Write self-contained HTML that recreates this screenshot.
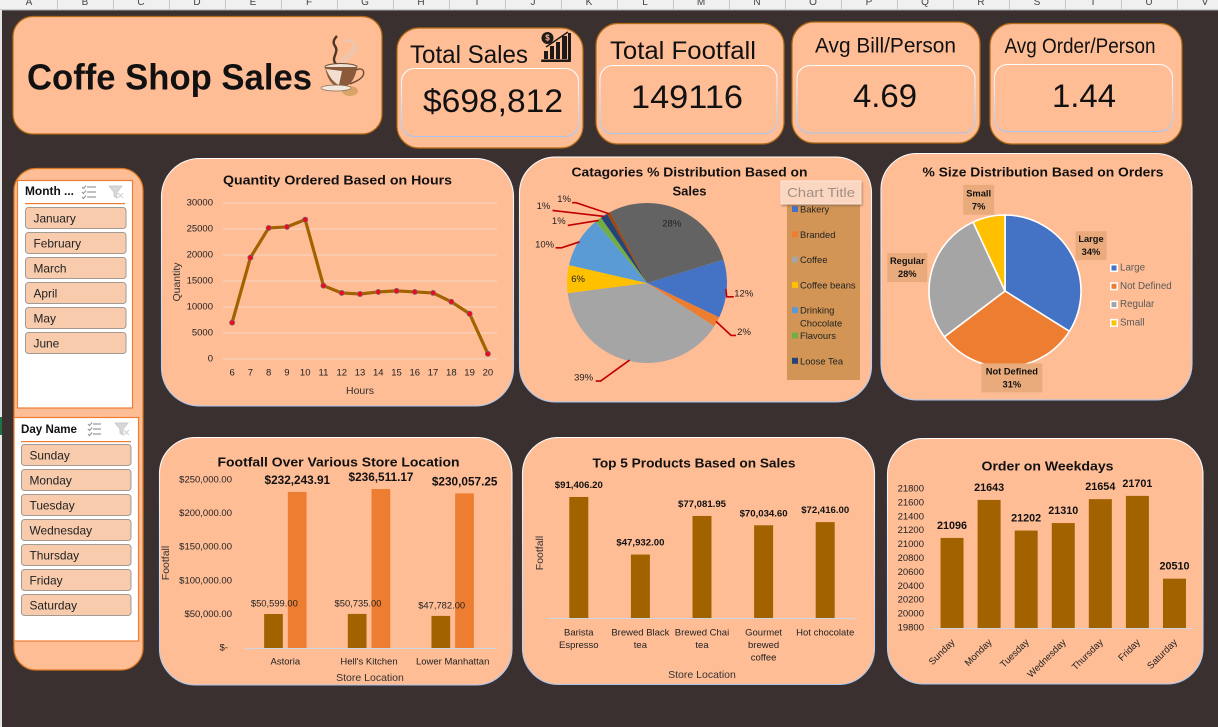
<!DOCTYPE html>
<html lang="en">
<head>
<meta charset="utf-8">
<title>Coffe Shop Sales Dashboard</title>
<style>
html,body{margin:0;padding:0;background:#3a3030;width:1218px;height:727px;overflow:hidden}
svg{display:block;font-family:"Liberation Sans",sans-serif}
text{dominant-baseline:central;fill:#111}
.kpi{fill:#ffbd96;stroke:#b26a14;stroke-width:1.2}
.inner{fill:#ffbd96;stroke:url(#edge);stroke-width:1.1}
.card{fill:#ffbd96;stroke:url(#edge);stroke-width:1.1}
.slicer-bg{fill:#fff;stroke:#ed7d31;stroke-width:1.2}
.item{fill:#f8cbad;stroke:#a39a94;stroke-width:1}
.item-text{font-size:11.9px;fill:#222}
.title{font-weight:bold;font-size:13px}
.tick{font-size:9.5px;fill:#222}
.axis-title{font-size:10.5px;fill:#333}
</style>
</head>
<body>
<svg id="dash" xmlns="http://www.w3.org/2000/svg" width="1218" height="727" viewBox="0 0 1218 727">
<defs>
<linearGradient id="edge" x1="0" y1="0" x2="0" y2="1"><stop offset="0" stop-color="#ffffff"/><stop offset="1" stop-color="#a9c6ee"/></linearGradient>
<filter id="soft" x="-10%" y="-10%" width="125%" height="130%"><feDropShadow dx="1" dy="1.5" stdDeviation="1" flood-color="#7a5a48" flood-opacity=".6"/></filter>
</defs>
<rect width="1218" height="727" fill="#3a3030"/>
<g id="sheet-head"></g>
<rect x="0" y="10" width="2" height="717" fill="#e6e6e6"/>
<rect x="0" y="417" width="2" height="18" fill="#1f7244"/>

<!-- title + KPI cards -->
<g>
<rect class="kpi" x="13" y="16.500" width="369" height="117.500" rx="20"/>
<text x="27" y="77" font-size="36" font-weight="bold" fill="#000" textLength="285" lengthAdjust="spacingAndGlyphs">Coffe Shop Sales</text>
<g>
<path d="M337 65C329 58 340 53 335 46C332 42 335 38 337 36" fill="none" stroke="#4e3524" stroke-width="2.4"/>
<path d="M340 62C344 54 352 54 354 46C355 40 347 38 344 43M343 62C350 56 358 52 358 44" fill="none" stroke="#d9cfc8" stroke-width="1.2"/>
<ellipse cx="341" cy="67" rx="16" ry="3.500" fill="#efe2d6" stroke="#6b4a32"/>
<path d="M325 67C327 78 331 84 336 86H347C352 83 356 76 357 67Z" fill="#8a5a3a"/>
<path d="M326 69C330 78 334 83 339 85L342 71Z" fill="#f2dfcf"/>
<path d="M356 70C364 66 366 74 361 78C358 81 354 82 350 84" fill="none" stroke="#6b4a32" stroke-width="1.400"/>
<ellipse cx="350" cy="91" rx="8" ry="5" fill="#d9a566"/>
<ellipse cx="336" cy="88" rx="15" ry="3" fill="#f3e8dd" stroke="#8a6a50" stroke-width=".7"/>
</g>
</g>

<g>
<rect class="kpi" x="397" y="28" width="186" height="120" rx="22"/>
<rect class="inner" x="401.500" y="68.500" width="177" height="68" rx="13"/>
<text x="410" y="55" font-size="25" textLength="118" lengthAdjust="spacingAndGlyphs">Total Sales</text>
<text x="423" y="101" font-size="32" textLength="140" lengthAdjust="spacingAndGlyphs">$698,812</text>
<g fill="#1f1a18">
<circle cx="547.500" cy="38" r="6"/>
<text x="547.500" y="38" font-size="8" font-weight="bold" text-anchor="middle" style="fill:#ffbd96">$</text>
<rect x="544" y="51" width="4" height="8"/><rect x="550" y="46" width="4" height="13"/><rect x="556" y="42" width="4" height="17"/><rect x="562" y="36" width="5" height="23"/>
<rect x="541" y="59.500" width="30" height="2.500" rx="1"/>
<rect x="568" y="33" width="3" height="27"/>
<path d="M546 47L568 32" stroke="#1f1a18" stroke-width="1.500"/>
</g>
</g>

<g>
<rect class="kpi" x="596" y="23.500" width="188" height="120.500" rx="22"/>
<rect class="inner" x="600" y="65.500" width="177" height="68" rx="13"/>
<text x="610" y="51" font-size="25" textLength="146" lengthAdjust="spacingAndGlyphs">Total Footfall</text>
<text x="631" y="97" font-size="32" textLength="112" lengthAdjust="spacingAndGlyphs">149116</text>
</g>

<g>
<rect class="kpi" x="792" y="22" width="188" height="121" rx="22"/>
<rect class="inner" x="797" y="65.500" width="178" height="67.500" rx="13"/>
<text x="815" y="46" font-size="21" textLength="141" lengthAdjust="spacingAndGlyphs">Avg Bill/Person</text>
<text x="853" y="96" font-size="32" textLength="64" lengthAdjust="spacingAndGlyphs">4.69</text>
</g>

<g>
<rect class="kpi" x="990" y="23.500" width="192" height="120.500" rx="22"/>
<rect class="inner" x="994.500" y="64.500" width="178" height="67" rx="13"/>
<text x="1004.500" y="46.500" font-size="21" textLength="151" lengthAdjust="spacingAndGlyphs">Avg Order/Person</text>
<text x="1052" y="96" font-size="32" textLength="64" lengthAdjust="spacingAndGlyphs">1.44</text>
</g>

<!-- slicers -->
<g>
<rect x="14" y="168.500" width="129" height="501.500" rx="22" fill="#ffbd96" stroke="#d9781f" stroke-width="1.200"/>
</g>
<g id="month-slicer">
<rect class="slicer-bg" x="17.500" y="180.500" width="115" height="227.500"/>
<text x="25" y="192" font-size="11.500" font-weight="bold" fill="#10203a" textLength="49" lengthAdjust="spacingAndGlyphs">Month ...</text>
<path d="M87 187h9M87 192h9M87 197h9M82 187l1.500 1.500 2.500-3M82 192l1.500 1.500 2.500-3M82 197l1.500 1.500 2.500-3" fill="none" stroke="#9a9a9a" stroke-width="1.200"/>
<path d="M109 186h13l-5 6v6l-3-2v-4zM118 193l5 5M123 193l-5 5" fill="#d8d8d8" stroke="#c4c4c4" stroke-width=".8"/>
<rect x="25" y="203" width="100" height="1.200" fill="#ed7d31"/>
</g>
<g id="day-slicer">
<rect class="slicer-bg" x="14" y="417.500" width="124.500" height="223.500"/>
<text x="21" y="430" font-size="11.500" font-weight="bold" fill="#10203a" textLength="56" lengthAdjust="spacingAndGlyphs">Day Name</text>
<path d="M93 424h8M93 429h8M93 434h8M88 424l1.500 1.500 2.500-3M88 429l1.500 1.500 2.500-3M88 434l1.500 1.500 2.500-3" fill="none" stroke="#9a9a9a" stroke-width="1.200"/>
<path d="M115 423h13l-5 6v6l-3-2v-4zM124 430l5 5M129 430l-5 5" fill="#d8d8d8" stroke="#c4c4c4" stroke-width=".8"/>
<rect x="21" y="441" width="110" height="1.200" fill="#ed7d31"/>
</g>

<!-- chart cards -->
<g id="hours-chart">
<rect class="card" x="161.500" y="158.500" width="352" height="247.500" rx="38"/>
<text class="title" x="223" y="180" textLength="229" lengthAdjust="spacingAndGlyphs">Quantity Ordered Based on Hours</text>
<text class="axis-title" transform="translate(177 282) rotate(-90)" text-anchor="middle">Quantity</text>
<text class="axis-title" x="360" y="391" text-anchor="middle">Hours</text>
</g>

<g id="category-chart">
<rect class="card" x="519.500" y="157" width="352" height="245" rx="36"/>
<text class="title" x="571.500" y="172" textLength="236" lengthAdjust="spacingAndGlyphs">Catagories % Distribution Based on</text>
<text class="title" x="689.500" y="191" text-anchor="middle">Sales</text>
<rect x="787" y="203" width="73" height="177" fill="#d29555"/>
</g>

<g id="size-chart">
<rect class="card" x="881" y="153.500" width="311" height="246.500" rx="36"/>
<text class="title" x="922.500" y="172" textLength="241" lengthAdjust="spacingAndGlyphs">% Size Distribution Based on Orders</text>
</g>

<g id="footfall-chart">
<rect class="card" x="159.500" y="437.500" width="352.500" height="247.500" rx="36"/>
<text class="title" x="217.500" y="462" textLength="242" lengthAdjust="spacingAndGlyphs">Footfall Over Various Store Location</text>
<text class="axis-title" transform="translate(166 563) rotate(-90)" text-anchor="middle">Footfall</text>
<text class="axis-title" x="370" y="678" text-anchor="middle">Store Location</text>
</g>

<g id="products-chart">
<rect class="card" x="522.500" y="437.500" width="352" height="247" rx="36"/>
<text class="title" x="592.500" y="463" textLength="203" lengthAdjust="spacingAndGlyphs">Top 5 Products Based on Sales</text>
<text class="axis-title" transform="translate(540 553) rotate(-90)" text-anchor="middle">Footfall</text>
<text class="axis-title" x="702" y="675" text-anchor="middle">Store Location</text>
</g>

<g id="weekday-chart">
<rect class="card" x="887.500" y="438.500" width="315.500" height="245.500" rx="36"/>
<text class="title" x="981.500" y="466" textLength="132" lengthAdjust="spacingAndGlyphs">Order on Weekdays</text>
</g>

<g filter="url(#soft)">
<rect x="781" y="181" width="80" height="23" fill="#fbd7c2" stroke="#fde9dc"/>
<text x="821" y="193" font-size="12.500" text-anchor="middle" style="fill:#a38f84" textLength="68" lengthAdjust="spacingAndGlyphs">Chart Title</text>
</g>
</svg>

<script>
// ---------- chart data ----------
const columnLetters = ["A","B","C","D","E","F","G","H","I","J","K","L","M","N","O","P","Q","R","S","T","U","V"];
const months = ["January","February","March","April","May","June"];
const dayNames = ["Sunday","Monday","Tuesday","Wednesday","Thursday","Friday","Saturday"];

const hours = [6,7,8,9,10,11,12,13,14,15,16,17,18,19,20];
const hourQuantities = [7000,19500,25200,25400,26800,14100,12700,12500,12900,13100,12900,12700,11000,8700,1000];
const hourTicks = [0,5000,10000,15000,20000,25000,30000];

const categoryNames = ["Bakery","Branded","Coffee","Coffee beans","Drinking Chocolate","Flavours","Loose Tea","Packaged Chocolate","Tea"];
const categoryShares = [11.8,2.0,38.9,5.6,10.3,1.35,1.45,0.7,27.9];

const sizeNames = ["Large","Not Defined","Regular","Small"];
const sizeShares = [33.9,30.8,28.4,6.9];

const storeNames = ["Astoria","Hell's Kitchen","Lower Manhattan"];
const storeFootfall = [50599,50735,47782];
const storeSales = [232243.91,236511.17,230057.25];
const footfallTicks = [0,50000,100000,150000,200000,250000];

const productNames = [["Barista","Espresso"],["Brewed Black","tea"],["Brewed Chai","tea"],["Gourmet","brewed","coffee"],["Hot chocolate"]];
const productSales = [91406.20,47932.00,77081.95,70034.60,72416.00];

const weekdayOrders = [21096,21643,21202,21310,21654,21701,20510];
const weekdayTicks = [19800,20000,20200,20400,20600,20800,21000,21200,21400,21600,21800];

// ---------- helpers ----------
const NS = "http://www.w3.org/2000/svg";
function mk(parent, tag, attrs, txt){
  const el = document.createElementNS(NS, tag);
  for(const k in attrs) el.setAttribute(k, attrs[k]);
  if(txt !== undefined) el.textContent = txt;
  parent.appendChild(el);
  return el;
}
function linear(d0,d1,r0,r1){ return v => r0 + (v-d0)/(d1-d0)*(r1-r0); }
function band(n,left,right){ const w=(right-left)/n; return i => left + w*(i+.5); }
function money(v){ return "$" + v.toLocaleString("en-US",{minimumFractionDigits:2,maximumFractionDigits:2}); }
function polar(cx,cy,r,deg){ const a=deg*Math.PI/180; return [cx+r*Math.sin(a), cy-r*Math.cos(a)]; }
function sliceAngles(values,start){
  const total = values.reduce((a,b)=>a+b,0); let cur = start;
  return values.map(v => { const s=cur; cur += v/total*360; return {start:s,end:cur,mid:(s+cur)/2,pct:Math.round(v/total*100)}; });
}
function slicePath(cx,cy,r,a){
  const p0=polar(cx,cy,r,a.start), p1=polar(cx,cy,r,a.end);
  return `M${cx} ${cy}L${p0[0]} ${p0[1]}A${r} ${r} 0 ${a.end-a.start>180?1:0} 1 ${p1[0]} ${p1[1]}Z`;
}
const $ = id => document.getElementById(id);

// ---------- column header ----------
(function(){
  const g = $("sheet-head");
  const bg = mk(g,"rect",{x:0,y:0,width:1218,height:10,fill:"#f0f0f0"});
  
  
  mk(g,"rect",{x:0,y:9.5,width:1218,height:1,fill:"#a8a8a8"});
  columnLetters.forEach((c,i)=>{
    const x = 1+56*i;
    mk(g,"rect",{x:x+56,y:0,width:1,height:10,fill:"#c6c6c6"});
    const t = mk(g,"text",{x:x+28,y:2.5,"font-size":10,"text-anchor":"middle",style:"fill:#444"},c);
    
    
  });
})();

// ---------- slicers ----------
function slicerItems(groupId, names, left, width, top){
  const g = $(groupId);
  names.forEach((n,i)=>{
    const y = top + 25*i;
    const box = mk(g,"rect",{class:"item",x:left,y:y,width:width,height:21,rx:3});
    
    
    const t = mk(g,"text",{class:"item-text",x:left+8,y:y+11},n);
    
    
  });
}
slicerItems("month-slicer",months,25.5,100.5,207.5);
slicerItems("day-slicer",dayNames,21.5,109.5,444.5);

// ---------- line chart ----------
(function(){
  const g = $("hours-chart");
  const x = band(hours.length,223,497), y = linear(0,30000,359,203);
  hourTicks.forEach(v=>{
    const l = mk(g,"line",{x1:223,x2:497,y1:y(v),y2:y(v),stroke:"#f6d8c6","stroke-width":1});
    
    
    const t = mk(g,"text",{class:"tick",x:213,y:y(v),"text-anchor":"end"},v);
    
    
  });
  const line = mk(g,"polyline",{points:hourQuantities.map((v,i)=>x(i)+","+y(v)).join(" "),fill:"none",stroke:"#a36200","stroke-width":3.2,"stroke-linejoin":"round"});
  
  
  hourQuantities.forEach((v,i)=>{
    const c = mk(g,"circle",{cx:x(i),cy:y(v),r:2.6,fill:"#ee0a1e",stroke:"#7a6a6a","stroke-width":.7});
    
    
    const t = mk(g,"text",{class:"tick",x:x(i),y:373,"text-anchor":"middle"},hours[i]);
    
    
  });
})();

// ---------- category pie ----------
(function(){
  const g = $("category-chart");
  const cx=647, cy=283, r=80;
  const colors = ["#4472c4","#ed7d31","#a5a5a5","#ffc000","#5b9bd5","#70ad47","#264478","#9e480e","#636363"];
  // leader-line routing relative to each slice's outer edge point: [elbowDx,elbowDy,endDx,labelDx,labelDy]; null = label inside slice
  const leaderLayout = [[1,8,8,18,5],[15,14,20,28,11],[-29,21,-34,-46,18],null,[-18,6,-24,-35,3],[-31,5,-31,-40,1],[-52,-6,-52,-61,-10],[-33,-11,-37,-45,-14],null];
  const insideRadius = {3:69, 8:64};
  const arcs = sliceAngles(categoryShares,73);
  arcs.forEach((a,i)=>{
    const p = mk(g,"path",{d:slicePath(cx,cy,r,a),fill:colors[i]});
    
    
  });
  arcs.forEach((a,i)=>{
    const L = leaderLayout[i];
    let tx,ty;
    if(L){
      const e = polar(cx,cy,r-1,a.mid);
      const pl = mk(g,"polyline",{points:`${e[0]},${e[1]} ${e[0]+L[0]},${e[1]+L[1]} ${e[0]+L[2]},${e[1]+L[1]}`,fill:"none",stroke:"#c00000","stroke-width":1.6});
      
      
      tx = e[0]+L[3]; ty = e[1]+L[4];
    } else {
      const q = polar(cx,cy,insideRadius[i],a.mid);
      tx = q[0]; ty = q[1];
    }
    const t = mk(g,"text",{class:"tick",x:tx,y:ty,"text-anchor":"middle"},a.pct+"%");
    
    
  });
  const legendY = linear(0,1,209,234.3);
  categoryNames.slice(0,7).forEach((n,i)=>{
    const y = legendY(i);
    const s = mk(g,"rect",{x:792,y:y-3,width:6,height:6,fill:colors[i]});
    
    
    const parts = n==="Drinking Chocolate" ? ["Drinking","Chocolate"] : [n];
    parts.forEach((w,j)=>{
      const t = mk(g,"text",{x:800,y:y+j*13,"font-size":9.4,style:"fill:#222"},w);
      
      
    });
  });
})();

// ---------- size pie ----------
(function(){
  const g = $("size-chart");
  const cx=1005, cy=291, r=76;
  const colors = ["#4472c4","#ed7d31","#a5a5a5","#ffc000"];
  const labelOffset = [[19.5,-8.5,31,29],[3.5,11,61,29],[-24,-5,40,29],[-10,-17,31,30]];
  const arcs = sliceAngles(sizeShares,0);
  arcs.forEach((a,i)=>{
    const p = mk(g,"path",{d:slicePath(cx,cy,r,a),fill:colors[i],stroke:"#fff","stroke-width":1.6});
    
    
  });
  arcs.forEach((a,i)=>{
    const e = polar(cx,cy,r,a.mid), o = labelOffset[i];
    const bx = e[0]+o[0], by = e[1]+o[1];
    const b = mk(g,"rect",{x:bx-o[2]/2,y:by-o[3]/2,width:o[2],height:o[3],fill:"#eaab7c"});
    
    
    const t1 = mk(g,"text",{x:bx,y:by-6.5,"font-size":9.3,"font-weight":"bold","text-anchor":"middle"},sizeNames[i]);
    
    
    const t2 = mk(g,"text",{x:bx,y:by+6.5,"font-size":9.3,"font-weight":"bold","text-anchor":"middle"},a.pct+"%");
    
    
    const y = 268 + 18.3*i;
    const w = mk(g,"rect",{x:1110,y:y-4,width:8,height:8,fill:"#fff"});
    
    
    const s = mk(g,"rect",{x:1111.5,y:y-2.5,width:5,height:5,fill:colors[i]});
    
    
    const t3 = mk(g,"text",{x:1120,y:y,"font-size":9.8,style:"fill:#5a5a5a"},sizeNames[i]);
    
    
  });
})();

// ---------- footfall grouped bars ----------
(function(){
  const g = $("footfall-chart");
  const x = band(storeNames.length,244.5,495.5), y = linear(0,250000,648,480);
  footfallTicks.forEach(v=>{
    const t = mk(g,"text",{class:"tick",x:v===0?228:232,y:y(v),"text-anchor":"end"},v===0?"$-":money(v));
    
    
  });
  const bw=18.7, gap=5;
  storeNames.forEach((n,i)=>{
    const c = x(i)-1;
    const b1 = mk(g,"rect",{x:c-bw-gap/2,y:y(storeFootfall[i]),width:bw,height:648-y(storeFootfall[i]),fill:"#a36200"});
    
    
    const b2 = mk(g,"rect",{x:c+gap/2,y:y(storeSales[i]),width:bw,height:648-y(storeSales[i]),fill:"#ed7d31"});
    
    
    const t1 = mk(g,"text",{x:c-11,y:y(storeFootfall[i])-11,"font-size":9.4,"text-anchor":"middle",style:"fill:#222"},money(storeFootfall[i]));
    
    
    const t2 = mk(g,"text",{x:c+12,y:y(storeSales[i])-12,"font-size":11.8,"font-weight":"bold","text-anchor":"middle"},money(storeSales[i]));
    
    
    const t3 = mk(g,"text",{class:"tick",x:c,y:662,"text-anchor":"middle"},n);
    
    
  });
  const base = mk(g,"line",{x1:245,x2:496,y1:648.5,y2:648.5,stroke:"#cfd6e0","stroke-width":1});
  
  
})();

// ---------- product bars ----------
(function(){
  const g = $("products-chart");
  const x = band(productSales.length,548,856), y = linear(0,100000,618,485.6);
  productSales.forEach((v,i)=>{
    const b = mk(g,"rect",{x:x(i)-9.5,y:y(v),width:19,height:618-y(v),fill:"#a36200"});
    
    
    const t = mk(g,"text",{x:x(i),y:y(v)-11.5,"font-size":9.6,"font-weight":"bold","text-anchor":"middle"},money(v));
    
    
    productNames[i].forEach((w,j)=>{
      const c = mk(g,"text",{class:"tick",x:x(i),y:633+j*12.4,"text-anchor":"middle"},w);
      
      
    });
  });
  const base = mk(g,"line",{x1:548,x2:856,y1:618.5,y2:618.5,stroke:"#cfd6e0","stroke-width":1});
  
  
})();

// ---------- weekday bars ----------
(function(){
  const g = $("weekday-chart");
  const x = band(weekdayOrders.length,933.5,1193), y = linear(19800,21800,628,489);
  weekdayTicks.forEach(v=>{
    const t = mk(g,"text",{class:"tick",x:924,y:y(v),"text-anchor":"end"},v);
    
    
  });
  weekdayOrders.forEach((v,i)=>{
    const b = mk(g,"rect",{x:x(i)-11.5,y:y(v),width:23,height:628-y(v),fill:"#a36200"});
    
    
    const t = mk(g,"text",{x:x(i),y:y(v)-12,"font-size":10.8,"font-weight":"bold","text-anchor":"middle"},v);
    
    
    const c = mk(g,"text",{class:"tick",transform:`translate(${x(i)+1.5} 641) rotate(-45)`,"text-anchor":"end"},dayNames[i]);
    
    
  });
  const base = mk(g,"line",{x1:933,x2:1193,y1:628.5,y2:628.5,stroke:"#cfd6e0","stroke-width":1});
  
  
})();
</script>
</body>
</html>
